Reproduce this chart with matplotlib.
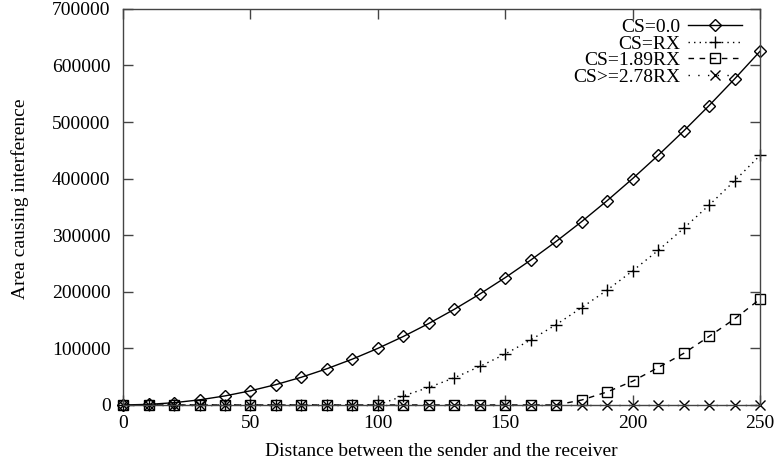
import matplotlib
matplotlib.use("Agg")
import matplotlib.pyplot as plt

distance = [0, 10, 20, 30, 40, 50, 60, 70, 80, 90, 100, 110, 120, 130, 140, 150,
            160, 170, 180, 190, 200, 210, 220, 230, 240, 250]
cs_0 = [0, 1000, 4000, 9000, 16000, 25000, 36000, 49000, 64000, 81000, 100000,
        121000, 144000, 169000, 196000, 225000, 256000, 289000, 324000, 361000,
        400000, 441000, 484000, 529000, 576000, 625000]
cs_rx = [0, 0, 0, 0, 0, 0, 0, 0, 0, 0, 0, 16000, 31000, 48000, 68000, 90000,
         115000, 142000, 172000, 203000, 237000, 273000, 312000, 353000, 396000, 441000]
cs_189 = [0, 0, 0, 0, 0, 0, 0, 0, 0, 0, 0, 0, 0, 0, 0, 0, 0, 0,
          8700, 23000, 42000, 66000, 91000, 121000, 152000, 187000]
cs_278 = [0] * 26
labels = ["CS=0.0", "CS=RX", "CS=1.89RX", "CS>=2.78RX"]

plt.rcParams['font.family'] = ['Liberation Serif', 'DejaVu Serif']
fs = 14

fig = plt.figure(figsize=(7.79, 4.66), dpi=100)
ax = fig.add_axes([0.158, 0.131, 0.8176, 0.850])

ax.plot(distance, cs_0, color='black', lw=1, linestyle='-', marker='D',
        markersize=6.5, markerfacecolor='none', markeredgecolor='black',
        markeredgewidth=1, clip_on=False, label=labels[0])
ax.plot(distance, cs_rx, color='black', lw=1, linestyle=(0, (1, 3)), marker='+',
        markersize=9, markeredgewidth=1, clip_on=False, label=labels[1])
ax.plot(distance, cs_189, color='black', lw=1, linestyle=(0, (4, 4)), marker='s',
        markersize=7, markerfacecolor='none', markeredgecolor='black',
        markeredgewidth=1, clip_on=False, label=labels[2])
ax.plot(distance, cs_278, color='black', lw=1, linestyle=(0, (1, 6)), marker='x',
        markersize=7.5, markeredgewidth=1, clip_on=False, label=labels[3])

ax.set_xlim(0, 250)
ax.set_ylim(0, 700000)
ax.set_xticks([0, 50, 100, 150, 200, 250])
ax.set_yticks(range(0, 700001, 100000))
ax.tick_params(direction='in', length=7, width=1, colors='#444444',
               labelcolor='black', labelsize=fs, top=True, right=True)
ax.tick_params(axis='y', pad=9)
ax.tick_params(axis='x', pad=7)
for s in ax.spines.values():
    s.set_color('#444444')
    s.set_linewidth(1)

ax.set_xlabel("Distance between the sender and the receiver", fontsize=fs, labelpad=8)
ax.set_ylabel("Area causing interference", fontsize=fs)
ax.yaxis.set_label_coords(-0.147, 0.52)

leg = ax.legend(loc='upper right', frameon=False, markerfirst=False, fontsize=fs,
                handlelength=2.8, labelspacing=-0.05, borderaxespad=0.0,
                handletextpad=0.4, borderpad=0.0, bbox_to_anchor=(0.972, 0.976))
for t in leg.get_texts():
    t.set_ha('right')
leg._legend_box.align = "right"

fig.savefig("out.png", dpi=100)
